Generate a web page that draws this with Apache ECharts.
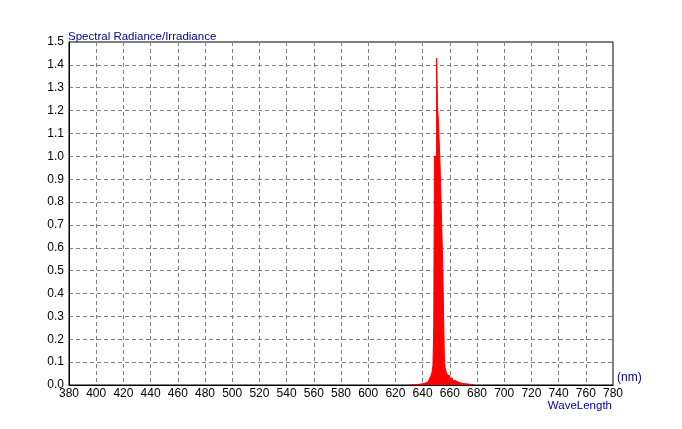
<!DOCTYPE html>
<html><head><meta charset="utf-8">
<script src="https://cdn.jsdelivr.net/npm/echarts@6/dist/echarts.min.js"></script>
<style>html,body{margin:0;padding:0;background:#fff}#c{width:682px;height:429px}</style>
</head><body><div id="c"></div>
<script>
// Wavelength (nm) where each step begins, and the radiance held until the next step
const wavelengths = [630, 632, 635, 638, 640, 642, 644, 645, 646, 647, 647.6, 648.2, 648.7, 650.3, 651.0, 651.8, 652.8, 654.0, 654.8, 656.0, 656.5, 657.5, 658.5, 660, 662, 664, 666, 668, 671, 675, 678];
const values      = [0, 0.002, 0.003, 0.006, 0.009, 0.013, 0.019, 0.026, 0.038, 0.058, 0.085, 0.25, 1.0, 1.43, 1.22, 1.13, 0.97, 0.714, 0.52, 0.12, 0.075, 0.055, 0.042, 0.03, 0.02, 0.013, 0.009, 0.006, 0.003, 0.001, 0];
const xRange = [380, 780, 20];
const yRange = [0, 1.5, 0.1];
const titleText = 'Spectral Radiance/Irradiance';
const unitText = '(nm)';
const xName = 'WaveLength';

const FONT = '"Liberation Sans Narrow", "Liberation Sans", Arial, sans-serif';
const chart = echarts.init(document.getElementById('c'), null, {renderer: 'canvas'});
chart.setOption({
  backgroundColor: '#ffffff',
  animation: false,
  grid: {left: 69, right: 69, top: 42, bottom: 44, show: true, borderColor: '#000', borderWidth: 1, backgroundColor: 'transparent'},
  xAxis: {
    type: 'value', min: xRange[0], max: xRange[1], interval: xRange[2],
    axisLine: {show: true, lineStyle: {color: '#000', width: 1}},
    axisTick: {show: false},
    axisLabel: {color: '#000', fontFamily: FONT, fontSize: 12, margin: 3},
    splitLine: {show: true, lineStyle: {color: '#808080', type: [4, 3], width: 1}}
  },
  yAxis: {
    type: 'value', min: yRange[0], max: yRange[1], interval: yRange[2],
    axisLine: {show: true, lineStyle: {color: '#000', width: 1}},
    axisTick: {show: false},
    axisLabel: {color: '#000', fontFamily: FONT, fontSize: 12, margin: 5, formatter: v => v.toFixed(1)},
    splitLine: {show: true, lineStyle: {color: '#808080', type: [4, 3], width: 1}}
  },
  graphic: [
    {type: 'text', left: 68, top: 31, style: {text: titleText, fill: '#000099', font: '11.5px ' + FONT}},
    {type: 'text', left: 617, top: 372, style: {text: unitText, fill: '#000099', font: '12px ' + FONT}},
    {type: 'text', right: 70, top: 400, style: {text: xName, fill: '#000099', font: '11.5px ' + FONT}}
  ],
  series: [{
    type: 'line', step: 'end', showSymbol: false, silent: true,
    data: wavelengths.map((w, i) => [w, values[i]]),
    lineStyle: {color: '#ff0000', width: 1},
    areaStyle: {color: '#ff0000', opacity: 1}
  }]
});
</script></body></html>
